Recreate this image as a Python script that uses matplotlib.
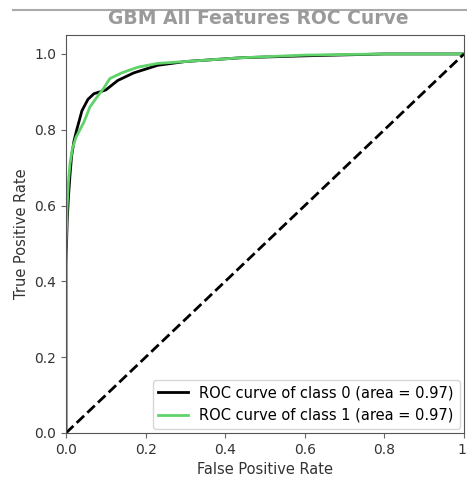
import numpy as np
import matplotlib.pyplot as plt
from matplotlib.lines import Line2D

# --- ROC points ---
fpr_0 = [0.0, 0.0, 0.003, 0.006, 0.010, 0.014, 0.020, 0.027, 0.040, 0.055, 0.070,
         0.100, 0.130, 0.170, 0.230, 0.300, 0.440, 0.600, 0.800, 1.0]
tpr_0 = [0.0, 0.45, 0.56, 0.62, 0.68, 0.73, 0.77, 0.80, 0.85, 0.88, 0.895,
         0.905, 0.93, 0.95, 0.97, 0.98, 0.99, 0.995, 1.0, 1.0]

fpr_1 = [0.0, 0.0, 0.003, 0.006, 0.010, 0.016, 0.025, 0.035, 0.045, 0.060, 0.077,
         0.095, 0.110, 0.140, 0.180, 0.230, 0.300, 0.440, 0.600, 0.800, 1.0]
tpr_1 = [0.0, 0.50, 0.60, 0.66, 0.71, 0.75, 0.78, 0.80, 0.82, 0.86, 0.885,
         0.91, 0.935, 0.95, 0.965, 0.975, 0.98, 0.99, 0.997, 1.0, 1.0]

labels = ["ROC curve of class 0 (area = 0.97)",
          "ROC curve of class 1 (area = 0.97)"]
title = "GBM All Features ROC Curve"

cmap = plt.get_cmap("nipy_spectral")
colors = [cmap(0.0), "#5fd36a"]

fig = plt.figure(figsize=(4.67, 4.78), dpi=100)
ax = fig.add_axes([66 / 467, 45 / 478, 398 / 467, 398 / 478])

ax.plot(fpr_0, tpr_0, lw=2, color=colors[0], label=labels[0])
ax.plot(fpr_1, tpr_1, lw=2, color=colors[1], label=labels[1])
ax.plot([0, 1], [0, 1], "k--", lw=2)

ax.set_xlim(0.0, 1.0)
ax.set_ylim(0.0, 1.05)
ax.set_xticks([0.0, 0.2, 0.4, 0.6, 0.8, 1.0])
ax.set_xticklabels(["0.0", "0.2", "0.4", "0.6", "0.8", "1."])
ax.set_xlabel("False Positive Rate", fontsize=10.5, color="#333333")
ax.set_ylabel("True Positive Rate", fontsize=10.5, color="#333333")
ax.tick_params(labelsize=10, labelcolor="#333333", color="#666666")
for s in ax.spines.values():
    s.set_color("#555555")
ax.legend(loc="lower right", fontsize=10.5, borderaxespad=0.3)

fig.text(0.553, 0.962, title, ha="center", va="center", fontsize=13.5,
         fontweight="bold", color="#9a9a9a")
fig.add_artist(Line2D([13 / 467, 1.0], [1 - 10 / 478, 1 - 10 / 478],
                      color="#aaaaaa", lw=1.5, transform=fig.transFigure))

fig.savefig("out.png", dpi=100)
